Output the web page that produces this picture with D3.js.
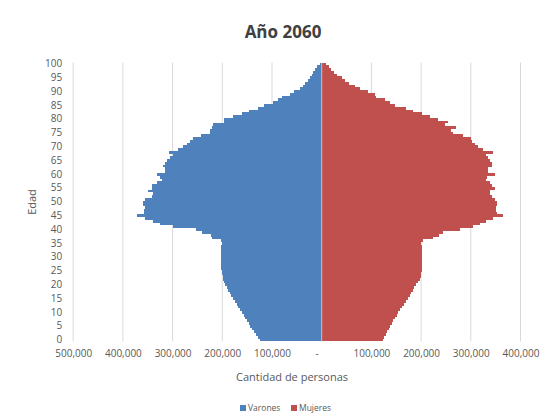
<!DOCTYPE html>
<html>
<head>
<meta charset="utf-8">
<script src="https://cdn.jsdelivr.net/npm/d3@7"></script>
<style>
  body { margin: 0; background: #fff; }
  svg text { font-family: "Open Sans", sans-serif; }
</style>
</head>
<body>
<div id="chart"></div>
<script>
// Datos: población por edad simple (año 2060)
const edades = d3.range(0, 101);

const varones = [
  124000, 128000, 132000, 136000, 140000, 144000, 147000, 151000, 154000, 157000,
  160000, 164000, 168000, 171000, 175000, 178000, 182000, 185000, 188000, 191000,
  194000, 196000, 198000, 199000, 200000, 201000, 202000, 202000, 203000, 203000,
  203000, 203000, 202000, 202000, 202000, 201000, 202000, 221000, 222000, 241000,
  252000, 300000, 325000, 339000, 355000, 371000, 357000, 357000, 355000, 360000,
  360000, 355000, 342000, 339000, 349000, 342000, 342000, 332000, 322000, 325000,
  332000, 315000, 315000, 319000, 315000, 312000, 305000, 299000, 307000, 290000,
  280000, 272000, 265000, 258000, 243000, 225000, 225000, 220000, 218000, 196000,
  196000, 179000, 161000, 146000, 128000, 116000, 97000, 87000, 80000, 64000,
  55000, 44000, 37000, 34000, 27000, 24000, 20000, 17000, 13000, 9000,
  3000
];

const mujeres = [
  123000, 126000, 129000, 132000, 135000, 138000, 141000, 144000, 148000, 151000,
  154000, 158000, 162000, 166000, 169000, 173000, 177000, 180000, 183000, 186000,
  189000, 193000, 197000, 199000, 200000, 201000, 201000, 202000, 202000, 202000,
  202000, 202000, 202000, 201000, 201000, 200000, 203000, 223000, 237000, 245000,
  278000, 305000, 318000, 331000, 344000, 364000, 352000, 351000, 351000, 352000,
  353000, 349000, 342000, 339000, 339000, 349000, 342000, 339000, 331000, 332000,
  349000, 335000, 335000, 342000, 342000, 339000, 335000, 331000, 344000, 325000,
  315000, 308000, 302000, 300000, 284000, 264000, 261000, 270000, 248000, 254000,
  234000, 217000, 202000, 184000, 170000, 148000, 137000, 127000, 110000, 107000,
  93000, 77000, 66000, 55000, 46000, 40000, 31000, 25000, 19000, 14000,
  9000
];

const xTicks = [-500000, -400000, -300000, -200000, -100000, 0, 100000, 200000, 300000, 400000];
const yTicks = d3.range(0, 101, 5);

const series = [
  { name: 'Varones', color: '#4F81BD' },
  { name: 'Mujeres', color: '#C0504D' }
];

const width = 552, height = 419;
const plot = { left: 73.2, right: 520.5, top: 62.6, bottom: 341.4 };

const svg = d3.select('#chart')
  .append('svg')
  .attr('width', width)
  .attr('height', height);

const x = d3.scaleLinear()
  .domain([-500000, 400000])
  .range([plot.left, plot.right]);

const y = d3.scaleBand()
  .domain(edades.slice().reverse())
  .range([plot.top, plot.bottom])
  .padding(0);

// Title
svg.append('text')
  .attr('x', 283)
  .attr('y', 38)
  .attr('text-anchor', 'middle')
  .style('font-size', '17px')
  .style('font-weight', 'bold')
  .style('fill', '#404040')
  .text('Año 2060');

// Gridlines
svg.append('g')
  .selectAll('line')
  .data(xTicks)
  .join('line')
  .attr('x1', d => x(d))
  .attr('x2', d => x(d))
  .attr('y1', plot.top)
  .attr('y2', plot.bottom)
  .attr('stroke', '#D9D9D9')
  .attr('stroke-width', 1);

// Bars (no gap between ages)
const bars = svg.append('g')
  .attr('shape-rendering', 'crispEdges');
bars.selectAll('rect.varones')
  .data(edades)
  .join('rect')
  .attr('class', 'varones')
  .attr('x', d => x(-varones[d]))
  .attr('y', d => y(d))
  .attr('width', d => x(0) - x(-varones[d]))
  .attr('height', y.bandwidth())
  .attr('fill', series[0].color);

bars.selectAll('rect.mujeres')
  .data(edades)
  .join('rect')
  .attr('class', 'mujeres')
  .attr('x', x(0))
  .attr('y', d => y(d))
  .attr('width', d => x(mujeres[d]) - x(0))
  .attr('height', y.bandwidth())
  .attr('fill', series[1].color);

// thin light seam between the two series
svg.append('line')
  .attr('x1', x(0))
  .attr('x2', x(0))
  .attr('y1', y(100))
  .attr('y2', plot.bottom)
  .attr('stroke', '#fff')
  .attr('stroke-opacity', 0.7)
  .attr('stroke-width', 0.8);

// X axis
const xAxis = svg.append('g')
  .attr('transform', `translate(0,${plot.bottom})`)
  .call(d3.axisBottom(x)
    .tickValues(xTicks)
    .tickSize(0)
    .tickPadding(9)
    .tickFormat(d => d === 0 ? '-' : d3.format(',')(Math.abs(d))));
xAxis.select('.domain').remove();
xAxis.selectAll('text')
  .style('font-size', '10px')
  .style('fill', '#595959')
  .attr('dx', d => d === 0 ? -5 : 0);

// Y axis
const yAxis = svg.append('g')
  .attr('transform', `translate(${plot.left},0)`)
  .call(d3.axisLeft(y)
    .tickValues(yTicks)
    .tickSize(0)
    .tickPadding(11));
yAxis.select('.domain').remove();
yAxis.selectAll('text')
  .style('font-size', '10px')
  .style('fill', '#595959');

// Axis titles
svg.append('text')
  .attr('x', 292)
  .attr('y', 381)
  .attr('text-anchor', 'middle')
  .style('font-size', '11px')
  .style('fill', '#595959')
  .text('Cantidad de personas');

svg.append('text')
  .attr('transform', `translate(36,${(plot.top + plot.bottom) / 2}) rotate(-90)`)
  .attr('text-anchor', 'middle')
  .style('font-size', '11px')
  .style('fill', '#595959')
  .text('Edad');

// Legend
const legend = svg.append('g')
  .attr('transform', 'translate(240,408)');
const items = legend.selectAll('g')
  .data(series)
  .join('g')
  .attr('transform', (d, i) => `translate(${i * 51},0)`);
items.append('rect')
  .attr('x', 0)
  .attr('y', -3)
  .attr('width', 6)
  .attr('height', 6)
  .attr('fill', d => d.color);
items.append('text')
  .attr('x', 8)
  .attr('y', 3)
  .style('font-size', '8.5px')
  .style('fill', '#595959')
  .text(d => d.name);
</script>
</body>
</html>
